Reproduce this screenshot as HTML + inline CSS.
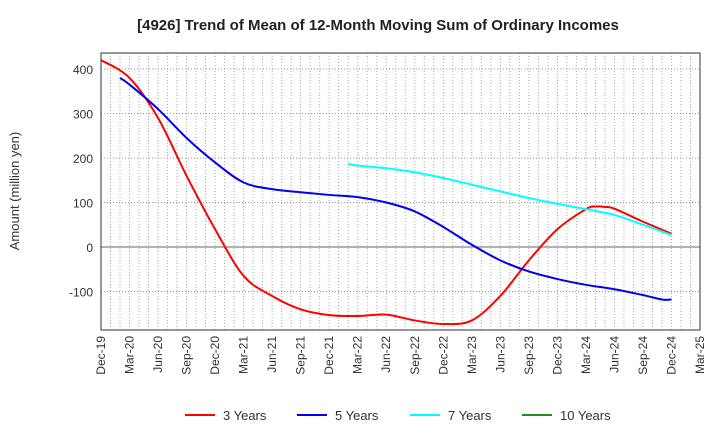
<!DOCTYPE html>
<html><head><meta charset="utf-8"><style>
body{margin:0;background:#fff;font-family:"Liberation Sans",sans-serif}
</style></head><body>
<svg id="c" width="720" height="440" xmlns="http://www.w3.org/2000/svg">
<text x="378" y="30" text-anchor="middle" font-size="15" font-weight="bold" fill="#222">[4926]  Trend of Mean of 12-Month Moving Sum of Ordinary Incomes</text>
<text transform="translate(19,191) rotate(-90)" text-anchor="middle" font-size="13" fill="#333">Amount (million yen)</text>
<g id="grid"></g><g id="series"></g><g id="axes"></g><g id="legend"></g>
</svg>
<script>
const xLabels=["Dec-19","Mar-20","Jun-20","Sep-20","Dec-20","Mar-21","Jun-21","Sep-21","Dec-21","Mar-22","Jun-22","Sep-22","Dec-22","Mar-23","Jun-23","Sep-23","Dec-23","Mar-24","Jun-24","Sep-24","Dec-24","Mar-25"];
const yTicks=[-100,0,100,200,300,400];
// months since Dec-19
const m3=[0,3,6,9,12,15,18,21,24,27,30,33,36,39,42,45,48,51,52,53,54,57,60];
const v3=[420,380,290,160,40,-65,-110,-140,-153,-155,-152,-165,-173,-165,-110,-30,40,85,91,90,86,57,30];
const m5=[2,3,6,9,12,15,18,21,24,27,30,33,36,39,42,45,48,51,54,57,59,60];
const v5=[380,365,310,245,190,145,130,123,117,112,100,80,45,5,-30,-55,-72,-85,-95,-108,-118,-118];
const m7=[26,27,30,33,36,39,42,45,48,51,54,57,60];
const v7=[187,183,177,168,155,140,125,110,97,85,72,50,27];
const L=101,R=700,T=53,B=330,NS="http://www.w3.org/2000/svg";
const X=m=>L+m*(R-L)/63, Y=v=>247-v*0.445;
function mk(p,t,a){const e=document.createElementNS(NS,t);for(const k in a)e.setAttribute(k,a[k]);p.appendChild(e);return e;}
const g=document.getElementById('grid'),ax=document.getElementById('axes'),s=document.getElementById('series'),lg=document.getElementById('legend');
for(let m=1;m<63;m++){const l=mk(g,'line',{x1:X(m),x2:X(m),y1:T,y2:B,stroke:'#aaa','stroke-dasharray':'1,2','stroke-width':1});

}
yTicks.forEach(v=>{const l=mk(g,'line',{x1:L,x2:R,y1:Y(v),y2:Y(v),stroke:v===0?'#666':'#999','stroke-dasharray':v===0?'':'1,2'});


const t=mk(ax,'text',{x:L-8,y:Y(v)+5,'text-anchor':'end','font-size':12,fill:'#333'});t.textContent=v;

});
const f=mk(ax,'rect',{x:L,y:T,width:R-L,height:B-T,fill:'none',stroke:'#333'});


xLabels.forEach((lb,i)=>{const x=X(i*3);const t=mk(ax,'text',{transform:`translate(${x+4},${B+6}) rotate(-90)`,'text-anchor':'end','font-size':12,fill:'#333'});t.textContent=lb;

});
function path(ms,vs){const p=ms.map((m,i)=>[X(m),Y(vs[i])]);let d=`M${p[0][0]},${p[0][1]}`;
for(let i=0;i<p.length-1;i++){const p0=p[i-1]||p[i],p1=p[i],p2=p[i+1],p3=p[i+2]||p2;
d+=` C${p1[0]+(p2[0]-p0[0])/6},${p1[1]+(p2[1]-p0[1])/6} ${p2[0]-(p3[0]-p1[0])/6},${p2[1]-(p3[1]-p1[1])/6} ${p2[0]},${p2[1]}`;}return d;}
[[m3,v3,'#ff0000','series-3-years'],[m5,v5,'#0000ee','series-5-years'],[m7,v7,'#00ffff','series-7-years']].forEach(([m,v,c,n])=>{
const p=mk(s,'path',{d:path(m,v),fill:'none',stroke:c,'stroke-width':2});

});
[['3 Years','#ff0000',185],['5 Years','#0000ee',297],['7 Years','#00ffff',410],['10 Years','#228b22',522]].forEach(([t,c,x])=>{
const e=mk(lg,'g',{});


mk(e,'line',{x1:x,x2:x+30,y1:415,y2:415,stroke:c,'stroke-width':2});
const tx=mk(e,'text',{x:x+38,y:420,'font-size':13,fill:'#333'});tx.textContent=t;});
</script>
</body></html>
